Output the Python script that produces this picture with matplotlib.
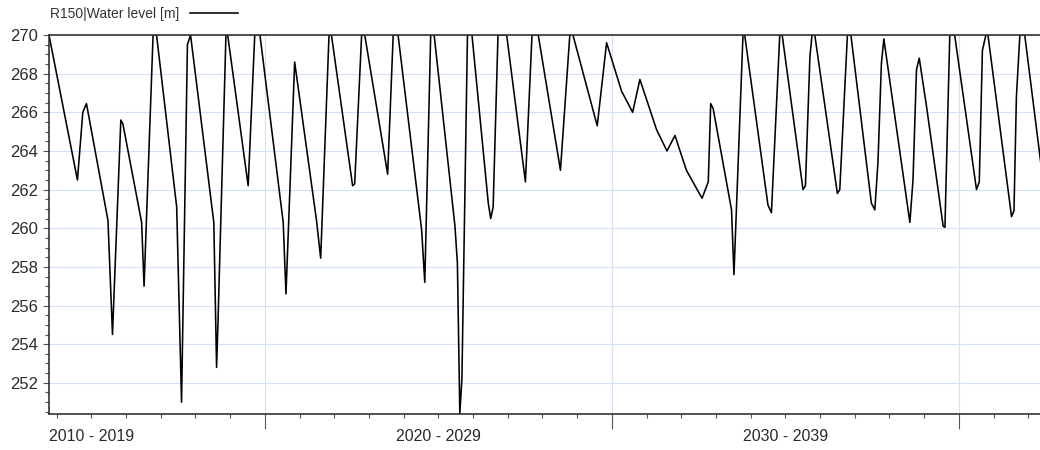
#!/usr/bin/env python3
"""Water level time series for R150, drawn as a decade axis line chart."""

import matplotlib
matplotlib.use("Agg")
import matplotlib.pyplot as plt
from matplotlib.ticker import FixedLocator, MultipleLocator, NullFormatter

# Vertices of the series (decimal year, water level in m)
years = [
    2013.78, 2014.60, 2014.755, 2014.86, 2015.48, 2015.61, 2015.85, 2015.91,
    2016.45, 2016.52, 2016.78, 2016.88, 2017.46, 2017.60, 2017.77, 2017.86,
    2018.53, 2018.61, 2018.65, 2018.88, 2018.93, 2019.52, 2019.71, 2019.86,
    2020.53, 2020.61, 2020.86, 2021.49, 2021.61, 2021.85, 2021.92, 2022.53,
    2022.59, 2022.79, 2022.88, 2023.54, 2023.70, 2023.84, 2024.52, 2024.61,
    2024.78, 2024.88, 2025.48, 2025.55, 2025.62, 2025.68, 2025.84, 2025.97,
    2026.44, 2026.51, 2026.58, 2026.72, 2026.97, 2027.51, 2027.70, 2027.88,
    2028.52, 2028.79, 2028.88, 2029.58, 2029.85, 2030.28, 2030.60, 2030.81,
    2031.29, 2031.59, 2031.82, 2032.15, 2032.60, 2032.78, 2032.85, 2032.92,
    2033.45, 2033.52, 2033.78, 2033.83, 2034.50, 2034.60, 2034.84, 2034.91,
    2035.51, 2035.58, 2035.71, 2035.77, 2035.85, 2036.50, 2036.57, 2036.79,
    2036.89, 2037.48, 2037.58, 2037.67, 2037.77, 2037.84, 2038.59, 2038.68,
    2038.78, 2038.86, 2039.07, 2039.55, 2039.60, 2039.74, 2039.88, 2040.51,
    2040.59, 2040.68, 2040.78, 2040.84, 2041.52, 2041.59, 2041.66, 2041.76,
    2041.90, 2042.48,
]
level = [
    270.0, 262.5, 266.0, 266.45, 260.4, 254.5, 265.6, 265.4,
    260.3, 257.0, 270.0, 270.0, 261.1, 251.0, 269.5, 270.0,
    260.3, 252.8, 255.1, 270.0, 270.0, 262.2, 270.0, 270.0,
    260.3, 256.6, 268.6, 260.4, 258.45, 270.0, 270.0, 262.2,
    262.3, 270.0, 270.0, 262.8, 270.0, 270.0, 259.9, 257.2,
    270.0, 270.0, 260.1, 258.2, 250.4, 252.2, 270.0, 270.0,
    261.3, 260.5, 261.1, 270.0, 270.0, 262.4, 270.0, 270.0,
    263.0, 270.0, 270.0, 265.3, 269.6, 267.1, 266.0, 267.7,
    265.1, 264.0, 264.8, 263.0, 261.55, 262.4, 266.45, 266.2,
    260.95, 257.6, 270.0, 270.0, 261.2, 260.8, 270.0, 270.0,
    262.0, 262.2, 268.9, 270.0, 270.0, 261.8, 262.0, 270.0,
    270.0, 261.3, 260.95, 263.4, 268.55, 269.8, 260.3, 262.5,
    268.2, 268.8, 266.3, 260.1, 260.05, 270.0, 270.0, 262.0,
    262.4, 269.2, 270.0, 270.0, 260.6, 260.9, 266.8, 270.0,
    270.0, 261.7,
]

series_label = "R150|Water level [m]"
decade_edges = [2020, 2030, 2040]
decade_mids = [2015, 2025, 2035]
decade_labels = ["2010 - 2019", "2020 - 2029", "2030 - 2039"]

plt.rcParams["font.family"] = ["Liberation Sans", "DejaVu Sans"]

fig = plt.figure(figsize=(10.4, 4.5), dpi=100)
ax = fig.add_axes([0.0471, 0.0789, 0.9529, 0.8433])

ax.plot(years, level, color="black", linewidth=1.15, label=series_label)

ax.set_xlim(2013.78, 2042.34)
ax.set_ylim(250.36, 270)

# x axis: long ticks at decade edges, short ones every year, labels centred per decade
ax.xaxis.set_major_locator(FixedLocator(decade_edges))
ax.xaxis.set_minor_locator(MultipleLocator(1))
ax.xaxis.set_major_formatter(NullFormatter())
ax.tick_params(axis="x", which="major", length=10.8, width=0.8, color="#555555")
ax.tick_params(axis="x", which="minor", length=2.9, width=0.8, color="#555555")
for mid, lab in zip(decade_mids, decade_labels):
    ax.annotate(lab, xy=(mid, 0), xycoords=("data", "axes fraction"),
                xytext=(0, -15.5), textcoords="offset points",
                ha="center", va="center", fontsize=11.5, color="#2b2b2b",
                annotation_clip=False)

# y axis
ax.yaxis.set_major_locator(MultipleLocator(2))
ax.yaxis.set_minor_locator(MultipleLocator(0.5))
ax.tick_params(axis="y", which="major", length=4.3, width=0.8, color="#555555",
               labelsize=12, labelcolor="#2b2b2b", pad=3.5)
ax.tick_params(axis="y", which="minor", length=2.9, width=0.8, color="#555555")

ax.grid(True, which="major", color="#d3e0f5", linewidth=0.8)
ax.set_axisbelow(True)

for side in ["top", "left", "bottom"]:
    ax.spines[side].set_color("#333333")
    ax.spines[side].set_linewidth(1.2)
ax.spines["right"].set_visible(False)

fig.legend(loc="center left", bbox_to_anchor=(0.048, 0.969), frameon=False,
           markerfirst=False, handlelength=3.4, handletextpad=0.8,
           borderpad=0, borderaxespad=0, fontsize=10, labelcolor="#333333")

fig.savefig("out.png", dpi=100, facecolor="white")
